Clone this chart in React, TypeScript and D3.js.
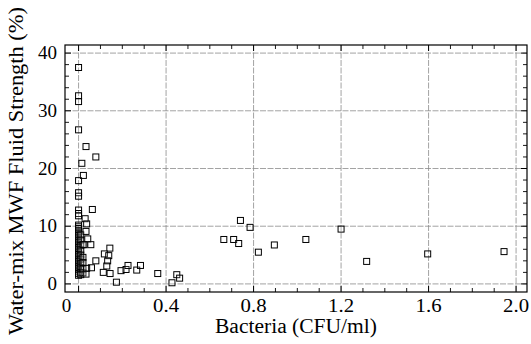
import React from "react";
import * as d3 from "d3";

const bacteria: number[] = [
  0, 0, 0, 0, 0, 0, 0, 0, 0, 0, 0, 0, 0, 0, 0, 0, 0, 0, 0, 0,
  0, 0, 0, 0, 0, 0, 0, 0, 0, 0, 0, 0, 0, 0, 0, 0, 0, 0, 0, 0,
  0.01, 0.01, 0.01, 0.01, 0.01, 0.01, 0.01, 0.01, 0.01, 0.01,
  0.02, 0.02, 0.02, 0.02, 0.02,
  0.034, 0.079, 0.015, 0.022, 0.063, 0.03, 0.037, 0.034, 0.042, 0.056,
  0.025, 0.143, 0.118, 0.138, 0.133, 0.079, 0.129, 0.059, 0.037, 0.113,
  0.144, 0.173, 0.194, 0.217, 0.226, 0.266, 0.283, 0.362, 0.427, 0.449,
  0.462, 0.664, 0.709, 0.732, 0.74, 0.784, 0.822, 0.895, 1.039, 1.2,
  1.317, 1.596, 1.945, 0.034,
];

const strength: number[] = [
  37.5, 32.6, 31.6, 26.7, 17.9, 15.8, 15.2, 12.8, 12.2, 11.8,
  10.2, 9.9, 9.6, 9.3, 9.0, 8.7, 8.4, 8.1, 7.8, 7.5,
  7.2, 6.9, 6.6, 6.3, 6.0, 5.7, 5.4, 5.1, 4.8, 4.5,
  4.2, 3.9, 3.6, 3.3, 3.0, 2.7, 2.4, 2.1, 1.8, 1.5,
  8.5, 7.6, 6.7, 5.9, 5.0, 4.3, 3.5, 2.8, 2.0, 1.6,
  6.8, 4.6, 3.7, 1.9, 2.6,
  23.8, 22.0, 20.9, 18.8, 12.9, 11.3, 10.4, 9.1, 7.8, 6.8,
  6.8, 6.2, 5.2, 4.9, 4.0, 4.0, 3.1, 2.8, 2.7, 2.0,
  1.8, 0.3, 2.3, 2.5, 3.2, 2.4, 3.2, 1.8, 0.2, 1.6,
  1.0, 7.7, 7.7, 7.0, 11.0, 9.8, 5.5, 6.75, 7.7, 9.5,
  3.9, 5.2, 5.6, 1.7,
];

const xTicks: number[] = [0, 0.4, 0.8, 1.2, 1.6, 2.0];
const xTickLabels: string[] = ["0", "0.4", "0.8", "1.2", "1.6", "2.0"];
const yTicks: number[] = [0, 10, 20, 30, 40];
const yTickLabels: string[] = ["0", "10", "20", "30", "40"];
const xTitle = "Bacteria (CFU/ml)";
const yTitle = "Water-mix MWF Fluid Strength (%)";

const W = 531;
const H = 344;
const L = 65, R = 527, T = 45, B = 292;
const FONT = "'Liberation Serif', 'Times New Roman', serif";

export default function App() {
  const x = d3.scaleLinear().domain([-0.062, 2.05]).range([L, R]);
  const y = d3.scaleLinear().domain([-1.4, 41.4]).range([B, T]);
  const xMinor = d3.range(0, 2.001, 0.1).filter((v) => Math.abs(v / 0.4 - Math.round(v / 0.4)) > 1e-6);
  const yMinor = d3.range(0, 40.001, 2).filter((v) => v % 10 !== 0);
  const grid = "#8c8c8c";
  const ms = 6;

  return (
    <svg width={W} height={H} style={{ position: "absolute", left: 0, top: 0, background: "#fff" }}>
      <rect x={0} y={0} width={W} height={H} fill="#fff" />
      {/* grid */}
      {xTicks.map((t) => (
        <line key={"gx" + t} x1={x(t)} x2={x(t)} y1={T} y2={B} stroke={grid} strokeWidth={0.8} strokeDasharray="6 1.5" />
      ))}
      {yTicks.map((t) => (
        <line key={"gy" + t} x1={L} x2={R} y1={y(t)} y2={y(t)} stroke={grid} strokeWidth={0.8} strokeDasharray="6 1.5" />
      ))}
      {/* ticks */}
      {xTicks.map((t) => (
        <g key={"xt" + t}>
          <line x1={x(t)} x2={x(t)} y1={B} y2={B - 6} stroke="#000" strokeWidth={1} />
          <line x1={x(t)} x2={x(t)} y1={T} y2={T + 6} stroke="#000" strokeWidth={1} />
        </g>
      ))}
      {xMinor.map((t) => (
        <g key={"xm" + t}>
          <line x1={x(t)} x2={x(t)} y1={B} y2={B - 4} stroke="#000" strokeWidth={0.9} />
          <line x1={x(t)} x2={x(t)} y1={T} y2={T + 4} stroke="#000" strokeWidth={0.9} />
        </g>
      ))}
      {yTicks.map((t) => (
        <g key={"yt" + t}>
          <line x1={L} x2={L + 6} y1={y(t)} y2={y(t)} stroke="#000" strokeWidth={1} />
          <line x1={R} x2={R - 6} y1={y(t)} y2={y(t)} stroke="#000" strokeWidth={1} />
        </g>
      ))}
      {yMinor.map((t) => (
        <g key={"ym" + t}>
          <line x1={L} x2={L + 4} y1={y(t)} y2={y(t)} stroke="#000" strokeWidth={0.9} />
          <line x1={R} x2={R - 4} y1={y(t)} y2={y(t)} stroke="#000" strokeWidth={0.9} />
        </g>
      ))}
      {/* points */}
      {bacteria.map((b, i) => (
        <rect
          key={"p" + i}
          x={x(b) - ms / 2}
          y={y(strength[i]) - ms / 2}
          width={ms}
          height={ms}
          fill="#fff"
          fillOpacity={0.15}
          stroke="#000"
          strokeWidth={1}
        />
      ))}
      {/* frame */}
      <rect x={L} y={T} width={R - L} height={B - T} fill="none" stroke="#000" strokeWidth={1.2} />
      {/* tick labels */}
      {xTicks.map((t, i) => (
        <text
          key={"xl" + t}
          x={x(t) + (i === 0 ? -12 : 0)}
          y={312}
          textAnchor="middle"
          fontFamily={FONT}
          fontSize={19}
          fill="#000"
          textLength={xTickLabels[i].length > 1 ? 26 : undefined}
          lengthAdjust="spacingAndGlyphs"
        >
          {xTickLabels[i]}
        </text>
      ))}
      {yTicks.map((t, i) => (
        <text
          key={"yl" + t}
          x={57}
          y={y(t) + 6}
          textAnchor="end"
          fontFamily={FONT}
          fontSize={19}
          fill="#000"
        >
          {yTickLabels[i]}
        </text>
      ))}
      <text
        x={(L + R) / 2}
        y={333}
        textAnchor="middle"
        fontFamily={FONT}
        fontSize={20}
        fill="#000"
        textLength={162}
        lengthAdjust="spacingAndGlyphs"
      >
        {xTitle}
      </text>
      <text
        transform={`translate(23, ${171}) rotate(-90)`}
        textAnchor="middle"
        fontFamily={FONT}
        fontSize={20}
        fill="#000"
        textLength={328}
        lengthAdjust="spacingAndGlyphs"
      >
        {yTitle}
      </text>
    </svg>
  );
}
